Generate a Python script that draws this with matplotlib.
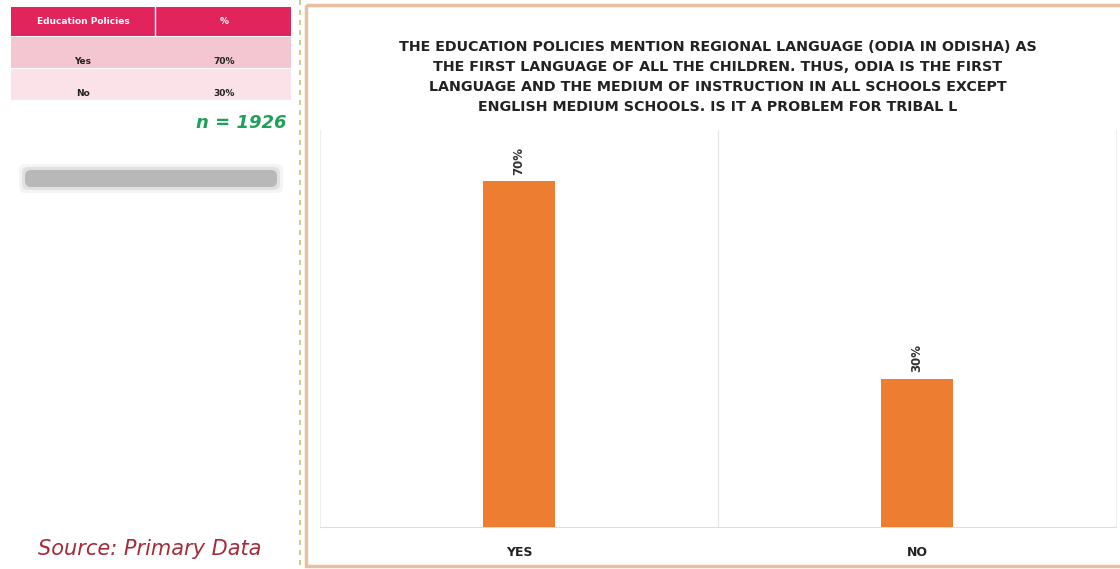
import matplotlib.pyplot as plt
from matplotlib.patches import Rectangle, FancyBboxPatch

categories = ['YES', 'NO']
values = [70, 30]
table_header = ['Education Policies', '%']
table_rows = ['Yes', 'No']
sample_size = 1926
title = ('THE EDUCATION POLICIES MENTION REGIONAL LANGUAGE (ODIA IN ODISHA) AS\n'
         'THE FIRST LANGUAGE OF ALL THE CHILDREN. THUS, ODIA IS THE FIRST\n'
         'LANGUAGE AND THE MEDIUM OF INSTRUCTION IN ALL SCHOOLS EXCEPT\n'
         'ENGLISH MEDIUM SCHOOLS. IS IT A PROBLEM FOR TRIBAL L')

W, H = 1120, 569
fig = plt.figure(figsize=(W / 100, H / 100), dpi=100)
fig.patch.set_facecolor('white')

# background layer in pixel coordinates for the table and panel frame
bg = fig.add_axes([0, 0, 1, 1])
bg.set_xlim(0, W)
bg.set_ylim(H, 0)
bg.axis('off')

bar_color = '#ED7D31'
header_color = '#E2245C'
row_colors = ['#F4C6D2', '#FAE2E8']

# summary table
bg.add_patch(Rectangle((11, 7), 280, 29, color=header_color, lw=0))
bg.plot([155, 155], [7, 36], color='white', lw=1)
bg.text(83, 21, table_header[0], color='white', fontsize=6.5, fontweight='bold',
        ha='center', va='center')
bg.text(224, 21, table_header[1], color='white', fontsize=6.5, fontweight='bold',
        ha='center', va='center')
for i, (label, val) in enumerate(zip(table_rows, values)):
    y0 = 37 + i * 32
    bg.add_patch(Rectangle((11, y0), 280, 31, color=row_colors[i], lw=0))
    bg.text(83, y0 + 24, label, color='#222222', fontsize=6.5, fontweight='bold',
            ha='center', va='center')
    bg.text(224, y0 + 24, f'{val}%', color='#222222', fontsize=6.5, fontweight='bold',
            ha='center', va='center')

bg.text(287, 123, f'n = {sample_size}', color='#1FA05A', fontsize=13,
        fontweight='bold', fontstyle='italic', ha='right', va='center')

# soft grey placeholder bar
for pad, a in [(6, 0.12), (3, 0.25), (0, 0.75)]:
    bg.add_patch(FancyBboxPatch((25 - pad, 170 - pad), 252 + 2 * pad, 17 + 2 * pad,
                                boxstyle='round,pad=0,rounding_size=6',
                                color='#ABABAB', alpha=a, lw=0))

bg.text(150, 549, 'Source: Primary Data', color='#A52A3A', fontsize=15,
        fontstyle='italic', ha='center', va='center')

# dashed separator and chart frame
bg.plot([300, 300], [0, H], color='#BFC97A', lw=1.2, ls=(0, (3, 3)))
bg.add_patch(Rectangle((306, 5), 820, 561, fill=False, ec='#E8BFA0', lw=2.5))

# bar chart
ax = fig.add_axes([320 / W, 1 - 527 / H, (1116 - 320) / W, (527 - 130) / H])
ax.set_xlim(-0.5, 1.5)
ax.set_ylim(0, 80.4)
ax.bar(range(len(categories)), values, width=0.183, color=bar_color, zorder=3)
for x, v in enumerate(values):
    ax.text(x, v + 1.3, f'{v}%', rotation=90, ha='center', va='bottom',
            fontsize=8.5, fontweight='bold', color='#333333')
ax.axvline(0.5, color='#E6E6E6', lw=0.8, zorder=1)
ax.set_xticks(range(len(categories)))
ax.set_xticklabels(categories, fontsize=9, fontweight='bold', color='#222222')
ax.tick_params(axis='x', length=0, pad=14)
ax.set_yticks([])
ax.spines['top'].set_visible(False)
for side in ['left', 'right']:
    ax.spines[side].set_color('#EEEEEE')
ax.spines['bottom'].set_color('#DDDDDD')

fig.text(718 / W, 1 - 77 / H, title, ha='center', va='center', fontsize=10.3,
         fontweight='bold', color='#222222', linespacing=1.52)

fig.savefig('out.png', dpi=100)
